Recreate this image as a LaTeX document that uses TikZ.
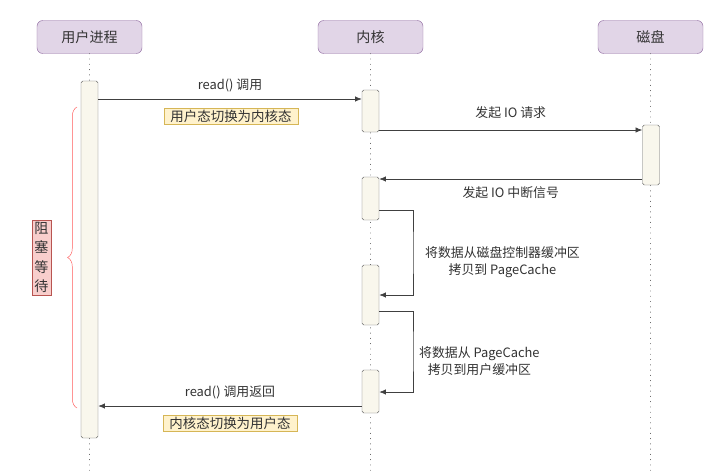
\documentclass[tikz,border=0pt]{standalone}
\usepackage{fontspec}
\setmainfont{Noto Sans CJK SC}
\usepackage{xcolor}
\usepackage{tikz}
\usetikzlibrary{arrows.meta, positioning, calc, decorations.pathreplacing}
\definecolor{headfill}{RGB}{225,213,231}
\definecolor{headline}{RGB}{150,115,166}
\definecolor{barfill}{RGB}{249,247,237}
\definecolor{notefill}{RGB}{255,242,204}
\definecolor{noteline}{RGB}{214,182,86}
\definecolor{waitfill}{RGB}{248,206,204}
\definecolor{waitline}{RGB}{184,84,80}
\definecolor{bracec}{RGB}{255,90,90}

\begin{document}
\begin{tikzpicture}[x=0.03cm, y=-0.03cm,
    head/.style={draw=headline, fill=headfill, rounded corners=5pt,
      minimum width=3.15cm, minimum height=0.99cm, font=\fontsize{12}{14}\selectfont,
      text=black!80},
    life/.style={black!70, thick, line cap=round, dash pattern=on 0pt off 4.5pt},
    bar/.style={draw=black!60, fill=barfill, rounded corners=1.5pt,
      minimum width=0.51cm, minimum height=#1, inner sep=0pt},
    msg/.style={-{Latex[length=2mm, width=1.6mm]}, black!75, semithick},
    lbl/.style={font=\fontsize{11}{15}\selectfont, text=black!80, align=center},
    note/.style={draw=noteline, fill=notefill, inner xsep=5.5pt, inner ysep=1.5pt,
      font=\fontsize{11.5}{13}\selectfont, text=black!80}]
  \useasboundingbox (0,0) rectangle (706,475);
  % participants
  \node[head] (user) at (89.5,37) {用户进程};
  \node[head] (kern) at (370.5,37) {内核};
  \node[head] (disk) at (650.5,37) {磁盘};
  \draw[life] (user.south) -- (user.south |- 0,475);
  \draw[life] (kern.south) -- (kern.south |- 0,475);
  \draw[life] (disk.south) -- (disk.south |- 0,475);
  % activations
  \node[bar=10.71cm] (ubar) at (89.5,259.5) {};
  \node[bar=1.26cm] (kbar1) at (370.5,111) {};
  \node[bar=1.8cm] (dbar) at (651,155) {};
  \node[bar=1.29cm] (kbar2) at (370.5,198.5) {};
  \node[bar=1.8cm] (kbar3) at (370.5,295) {};
  \node[bar=1.29cm] (kbar4) at (370.5,391.5) {};
  % messages
  \draw[msg] (ubar.east |- 0,99) -- node[lbl, above=2pt] {read() 调用} (kbar1.west |- 0,99);
  \node[note] (n1) at (231,116) {用户态切换为内核态};
  \draw[msg] (kbar1.east |- 0,130) -- node[lbl, above=6pt] {发起 IO 请求} (dbar.west |- 0,130);
  \draw[msg] (dbar.west |- 0,179) -- node[lbl, below=3pt] {发起 IO 中断信号} (kbar2.east |- 0,179);
  \draw[msg] (kbar2.east |- 0,210) -| (413,252.5) |- (kbar3.east |- 0,295);
  \node[lbl, anchor=west] (t1) at (421,262) {将数据从磁盘控制器缓冲区\\拷贝到 PageCache};
  \draw[msg] (kbar3.east |- 0,311) -| (413,351) |- (kbar4.east |- 0,392);
  \node[lbl, anchor=west] (t2) at (415,361) {将数据从 PageCache\\拷贝到用户缓冲区};
  \draw[msg] (kbar4.west |- 0,406) -- node[lbl, above=2pt] {read() 调用返回} (ubar.east |- 0,406);
  \node[note] (n2) at (230,423) {内核态切换为用户态};
  % blocking
  \draw[bracec, decorate, decoration={brace, amplitude=8pt}]
    (77,408) -- (77,107);
  \node[draw=waitline, fill=waitfill, inner sep=2pt, align=center,
    font=\fontsize{12}{16.5}\selectfont, text=black!80] (wait) at (41.5,257.5)
    {阻\\塞\\等\\待};
\end{tikzpicture}
\end{document}
